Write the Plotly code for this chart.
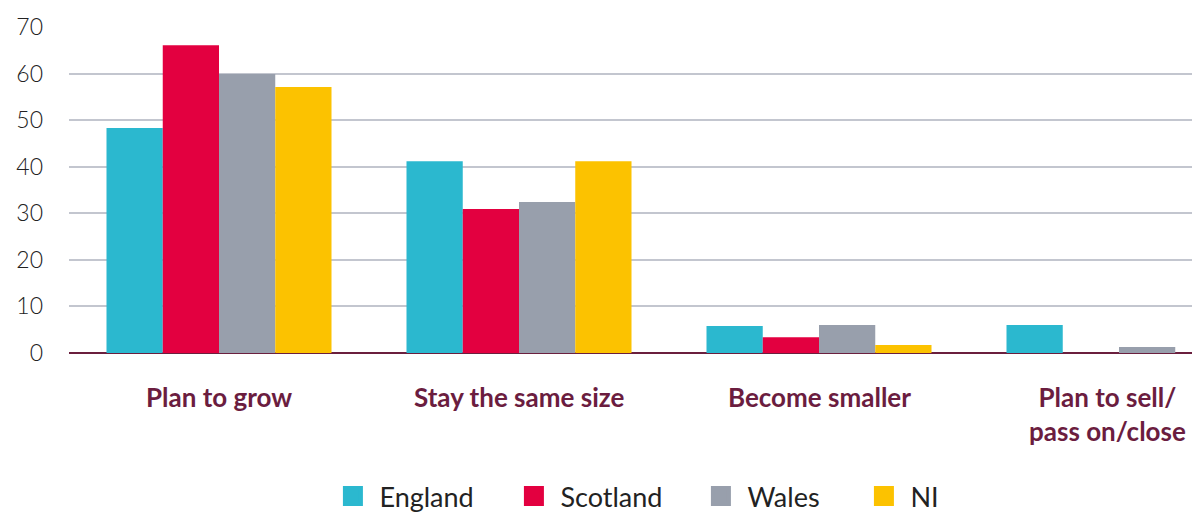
import plotly.graph_objects as go

categories = ["Plan to grow", "Stay the same size", "Become smaller", "Plan to sell/<br>pass on/close"]
england = [48.3, 41.2, 5.8, 6.0]
scotland = [66.1, 30.9, 3.4, 0]
wales = [59.9, 32.4, 6.0, 1.3]
ni = [57.1, 41.2, 1.7, 0]

series = [
    ("England", england, "#2bb8cf", 123),
    ("Scotland", scotland, "#e30040", 129),
    ("Wales", wales, "#989fac", 105),
    ("NI", ni, "#fcc200", 40),
]
label_shift = [0, 0, 0, -12]

fig = go.Figure()
for name, vals, col, lw in series:
    fig.add_trace(go.Bar(name=name, x=categories, y=vals, showlegend=False,
                         marker=dict(color=col, line=dict(width=0))))
for name, vals, col, lw in series:
    fig.add_trace(go.Scatter(name=name, x=[None], y=[None], mode="markers", legendwidth=lw,
                             marker=dict(symbol="square", size=16, color=col,
                                         line=dict(width=4, color=col))))

for cat, sh in zip(categories, label_shift):
    fig.add_annotation(x=cat, xref="x", y=0, yref="paper", yanchor="top", yshift=-26,
                       xshift=sh, text=cat, showarrow=False, align="center",
                       font=dict(size=26, color="#6b1d3f", family="Lato, sans-serif", weight="bold"))

fig.update_layout(
    width=1192, height=505,
    paper_bgcolor="white", plot_bgcolor="white",
    margin=dict(l=61, r=0, t=19, b=160, autoexpand=False),
    barmode="group", bargap=0.25, bargroupgap=0,
    font=dict(family="Lato, Open Sans, sans-serif", color="#222222", size=22),
    legend=dict(orientation="h", x=0.2276, xanchor="left", y=-0.44, yanchor="middle",
                font=dict(size=27, color="#222222"), itemwidth=43, traceorder="normal",
                itemsizing="trace"),
    showlegend=True,
)
fig.update_yaxes(range=[0, 70], dtick=10, showgrid=True, gridcolor="#c3c6cf", gridwidth=1.5,
                 zeroline=True, zerolinecolor="#6b1f3e", zerolinewidth=1.5, automargin=False,
                 tickfont=dict(size=23, color="#222222", weight=300), ticklabelstandoff=25, showline=False)
fig.update_xaxes(showgrid=False, showline=False, ticks="", automargin=False,
                 range=[-0.5, 3.27], showticklabels=False)

fig.write_html("out.html")
